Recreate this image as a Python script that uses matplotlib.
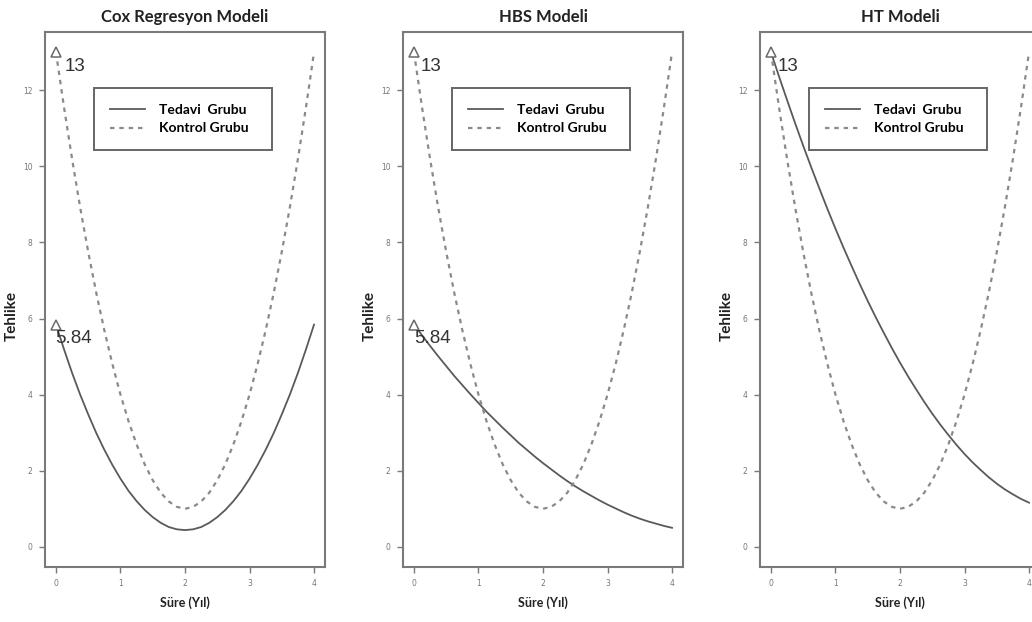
import matplotlib
matplotlib.use("Agg")
import matplotlib.pyplot as plt

# time grid (years) and hazard values
sure = [0, 0.125, 0.25, 0.375, 0.5, 0.625, 0.75, 0.875, 1,
        1.125, 1.25, 1.375, 1.5, 1.625, 1.75, 1.875, 2,
        2.125, 2.25, 2.375, 2.5, 2.625, 2.75, 2.875, 3,
        3.125, 3.25, 3.375, 3.5, 3.625, 3.75, 3.875, 4]

kontrol = [13.0, 11.55, 10.19, 8.92, 7.75, 6.67, 5.69, 4.80, 4.0,
           3.30, 2.69, 2.17, 1.75, 1.42, 1.19, 1.05, 1.0,
           1.05, 1.19, 1.42, 1.75, 2.17, 2.69, 3.30, 4.0,
           4.80, 5.69, 6.67, 7.75, 8.92, 10.19, 11.55, 13.0]

cox_tedavi = [5.84, 5.19, 4.57, 4.00, 3.48, 2.99, 2.55, 2.15, 1.79,
              1.47, 1.20, 0.97, 0.78, 0.63, 0.52, 0.46, 0.44,
              0.46, 0.52, 0.63, 0.78, 0.97, 1.20, 1.47, 1.79,
              2.15, 2.55, 2.99, 3.48, 4.00, 4.57, 5.19, 5.84]

hbs_tedavi = [5.84, 5.56, 5.28, 5.01, 4.75, 4.49, 4.25, 4.01, 3.78,
              3.55, 3.34, 3.13, 2.93, 2.73, 2.55, 2.37, 2.20,
              2.04, 1.88, 1.73, 1.59, 1.46, 1.34, 1.22, 1.11,
              1.01, 0.91, 0.82, 0.74, 0.67, 0.61, 0.55, 0.50]

ht_tedavi = [13.0, 12.36, 11.74, 11.13, 10.54, 9.97, 9.42, 8.88, 8.36,
             7.86, 7.38, 6.91, 6.46, 6.03, 5.62, 5.22, 4.84,
             4.48, 4.14, 3.81, 3.50, 3.21, 2.94, 2.68, 2.44,
             2.22, 2.02, 1.83, 1.66, 1.51, 1.38, 1.26, 1.16]

titles = ["Cox Regresyon Modeli", "HBS Modeli", "HT Modeli"]
tedavi_series = [cox_tedavi, hbs_tedavi, ht_tedavi]
# labelled start points per panel: (value, x offset in points)
marks = [[(13, 6.5), (5.84, -0.7)],
         [(13, 5.0), (5.84, 0.0)],
         [(13, 5.0)]]

x_ticks = [0, 1, 2, 3, 4]
y_ticks = [0, 2, 4, 6, 8, 10, 12]

GRAY = "#5a5a5a"
FRAME = "#7a7a7a"

fig = plt.figure(figsize=(10.32, 6.22), dpi=100)
lefts = [45, 403, 760]

for i, title in enumerate(titles):
    ax = fig.add_axes([lefts[i] / 1032, 55 / 622, 280 / 1032, 535 / 622])
    ax.plot(sure, tedavi_series[i], color=GRAY, lw=1.3,
            label="Tedavi  Grubu")
    ax.plot(sure, kontrol, color="#8a8a8a", lw=1.6,
            linestyle=(0, (2.0, 2.2)), label="Kontrol Grubu")

    for val, dx in marks[i]:
        ax.plot([0], [val], marker="^", ms=7, mfc="white", mec="#6a6a6a",
                mew=1.1, ls="none")
        ax.annotate(f"{val:g}", (0, val), xytext=(dx, -10),
                    textcoords="offset points", ha="left", va="center",
                    fontsize=13.5, color="#333333", family="Liberation Sans")

    ax.set_xlim(-0.17, 4.17)
    ax.set_ylim(-0.53, 13.53)
    ax.set_xticks(x_ticks)
    ax.set_yticks(y_ticks)
    ax.tick_params(direction="out", length=4, width=1, colors=FRAME,
                   labelsize=5.5, labelcolor="#777777", pad=5)
    for sp in ax.spines.values():
        sp.set_color(FRAME)
        sp.set_linewidth(1.5)

    ax.set_title(title, fontsize=12, fontweight="bold", family="Lato",
                 color="#222222", pad=7)
    ax.set_xlabel("Süre (Yıl)", fontsize=9, fontweight="bold",
                  family="Lato", color="#222222")
    ax.xaxis.set_label_coords(0.5, -0.055)
    ax.set_ylabel("Tehlike", fontsize=11, fontweight="bold",
                  family="Lato", color="#222222")
    ax.yaxis.set_label_coords(-0.095, 0.47)

    leg = ax.legend(loc="upper left", bbox_to_anchor=(0.175, 0.895, 0.636, 0.0),
                    mode="expand", borderaxespad=0, fancybox=False,
                    framealpha=1, edgecolor="#666666", handlelength=2.5,
                    handletextpad=1.0, labelspacing=0.45, borderpad=1.15,
                    prop={"family": "Lato", "weight": "bold", "size": 10})
    leg.get_frame().set_linewidth(1.4)

fig.savefig("out.png", dpi=100)
